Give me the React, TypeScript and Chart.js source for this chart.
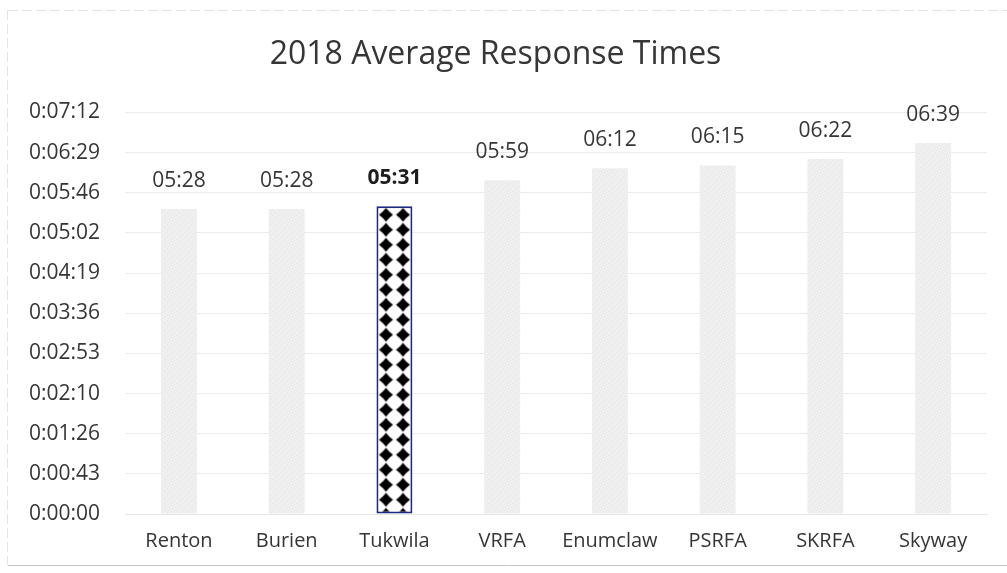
import React, { useEffect, useRef } from "react";
import { Chart, registerables } from "chart.js";

Chart.register(...registerables);

// Fire districts compared, in display order
const departments = ["Renton", "Burien", "Tukwila", "VRFA", "Enumclaw", "PSRFA", "SKRFA", "Skyway"];
// Average response time per district, in seconds
const responseSeconds = [328, 328, 331, 359, 372, 375, 382, 399];
// Index of the highlighted district
const highlightIndex = 2;
// Y axis: 0 .. 7:12 in steps of 43.2 s
const axisMaxSeconds = 432;
const axisStepSeconds = 43.2;

const FONT = "'Open Sans', 'Noto Sans', sans-serif";
const TEXT = "#363636";

function fmtHMS(sec: number): string {
  const s = Math.round(sec);
  const h = Math.floor(s / 3600);
  const m = Math.floor((s % 3600) / 60);
  const r = s % 60;
  return `${h}:${String(m).padStart(2, "0")}:${String(r).padStart(2, "0")}`;
}

function fmtMS(sec: number): string {
  const s = Math.round(sec);
  const m = Math.floor(s / 60);
  const r = s % 60;
  return `${String(m).padStart(2, "0")}:${String(r).padStart(2, "0")}`;
}

// Light stippled grey fill for the ordinary bars
function makeStipple(ctx: CanvasRenderingContext2D): CanvasPattern | string {
  const c = document.createElement("canvas");
  c.width = 6;
  c.height = 6;
  const g = c.getContext("2d");
  if (!g) return "#eeeeee";
  g.fillStyle = "#f0f0f0";
  g.fillRect(0, 0, 6, 6);
  g.fillStyle = "#e3e3e3";
  const dots = [[0, 0], [3, 1], [1, 3], [4, 4], [5, 2], [2, 5]];
  dots.forEach(([x, y]) => g.fillRect(x, y, 1, 1));
  return ctx.createPattern(c, "repeat") || "#eeeeee";
}

// White fill with black diamonds for the highlighted bar
function makeDiamonds(ctx: CanvasRenderingContext2D): CanvasPattern | string {
  const w = 17;
  const h = 15;
  const c = document.createElement("canvas");
  c.width = w;
  c.height = h;
  const g = c.getContext("2d");
  if (!g) return "#000";
  g.fillStyle = "#ffffff";
  g.fillRect(0, 0, w, h);
  const cx = w / 2;
  const cy = h / 2;
  const rx = 7;
  const ry = 7;
  const k = 0.42;
  g.fillStyle = "#000000";
  g.beginPath();
  g.moveTo(cx, cy - ry);
  g.quadraticCurveTo(cx + rx * k, cy - ry * k, cx + rx, cy);
  g.quadraticCurveTo(cx + rx * k, cy + ry * k, cx, cy + ry);
  g.quadraticCurveTo(cx - rx * k, cy + ry * k, cx - rx, cy);
  g.quadraticCurveTo(cx - rx * k, cy - ry * k, cx, cy - ry);
  g.closePath();
  g.fill();
  return ctx.createPattern(c, "repeat") || "#000";
}

export default function App() {
  const ref = useRef<HTMLCanvasElement | null>(null);

  useEffect(() => {
    document.body.style.margin = "0";
    const canvas = ref.current;
    if (!canvas) return;
    const ctx = canvas.getContext("2d");
    if (!ctx) return;

    const stipple = makeStipple(ctx);
    const diamonds = makeDiamonds(ctx);

    const fills = departments.map((_, i) => (i === highlightIndex ? diamonds : stipple));
    const borders = departments.map((_, i) => (i === highlightIndex ? "#1b2a80" : "rgba(0,0,0,0)"));
    const borderWidths = departments.map((_, i) => (i === highlightIndex ? 2 : 0));

    const alignPattern = {
      id: "alignPattern",
      beforeDatasetsDraw(chart: any) {
        const bar = chart.getDatasetMeta(0).data[highlightIndex];
        if (bar && typeof (diamonds as any).setTransform === "function") {
          const left = bar.x - bar.width / 2;
          (diamonds as CanvasPattern).setTransform(new DOMMatrix().translate(left + 1, bar.y + 1));
        }
      },
    };

    const valueLabels = {
      id: "valueLabels",
      afterDatasetsDraw(chart: any) {
        const c = chart.ctx;
        const meta = chart.getDatasetMeta(0);
        c.save();
        c.textAlign = "center";
        c.textBaseline = "middle";
        meta.data.forEach((bar: any, i: number) => {
          c.fillStyle = i === highlightIndex ? "#1e1e1e" : TEXT;
          c.font = `${i === highlightIndex ? "bold " : ""}21px ${FONT}`;
          c.fillText(fmtMS(responseSeconds[i]), bar.x, bar.y - 28);
        });
        c.restore();
      },
    };

    const frame = {
      id: "frame",
      afterDraw(chart: any) {
        const c = chart.ctx;
        c.save();
        c.strokeStyle = "#e4e4e4";
        c.lineWidth = 1;
        c.setLineDash([10, 4]);
        c.beginPath();
        c.moveTo(8, 10.5);
        c.lineTo(1007, 10.5);
        c.moveTo(7.5, 10);
        c.lineTo(7.5, 565);
        c.stroke();
        c.setLineDash([]);
        c.strokeStyle = "#c4c4c4";
        c.beginPath();
        c.moveTo(8, 565.5);
        c.lineTo(1007, 565.5);
        c.stroke();
        c.restore();
      },
    };

    const chart = new Chart(ctx, {
      type: "bar",
      data: {
        labels: departments,
        datasets: [
          {
            data: responseSeconds,
            backgroundColor: fills as any,
            borderColor: borders,
            borderWidth: borderWidths,
            borderSkipped: false,
            barPercentage: 0.667,
            categoryPercentage: 0.5,
          },
        ],
      },
      options: {
        animation: false,
        responsive: false,
        maintainAspectRatio: false,
        layout: { padding: { left: 4, right: 20, top: 36, bottom: 13 } },
        plugins: {
          legend: { display: false },
          tooltip: { enabled: false },
          title: {
            display: true,
            text: "2018 Average Response Times",
            color: "#363636",
            font: { family: FONT, size: 32, weight: "normal" },
            padding: { top: 0, bottom: 38 },
          },
        },
        scales: {
          x: {
            grid: { display: false },
            border: { display: true, color: "#e6e6e6" },
            ticks: {
              color: TEXT,
              font: { family: FONT, size: 20 },
              padding: 7,
              maxRotation: 0,
            },
          },
          y: {
            min: 0,
            max: axisMaxSeconds,
            border: { display: false },
            grid: { color: "#ebebeb", lineWidth: 1, drawTicks: false },
            ticks: {
              stepSize: axisStepSeconds,
              color: TEXT,
              font: { family: FONT, size: 21 },
              padding: 25,
              callback: (v: any) => fmtHMS(Number(v)),
            },
          },
        },
      },
      plugins: [alignPattern, valueLabels, frame],
    });

    return () => chart.destroy();
  }, []);

  return (
    <div style={{ position: "fixed", left: 0, top: 0, width: 1007, height: 573, background: "#fff" }}>
      <canvas ref={ref} width={1007} height={573} style={{ display: "block" }} />
    </div>
  );
}
